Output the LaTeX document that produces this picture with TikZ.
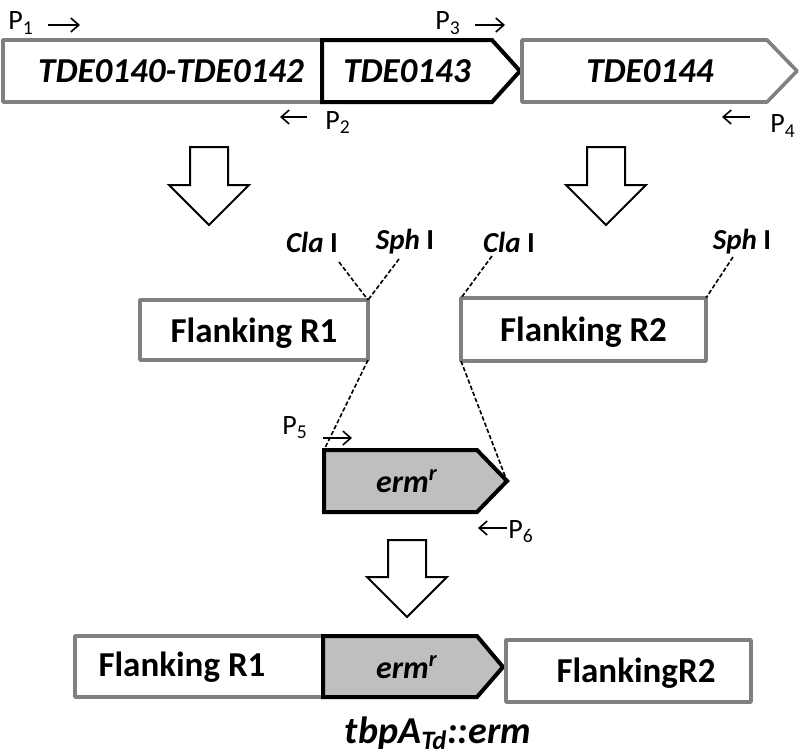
\documentclass[tikz,border=0pt]{standalone}
\usepackage{fontspec}
\setmainfont{Carlito}
\usetikzlibrary{arrows.meta}

\begin{document}
\begin{tikzpicture}[x=0.5pt,y=-0.5pt,
    grey box/.style={draw=black!50, line width=1.8pt, line join=round},
    black box/.style={draw=black, line width=2pt, line join=miter},
    erm box/.style={black box, fill=black!25},
    flank/.style={rectangle, grey box, outer sep=0pt, inner sep=0pt, text depth=0pt, font=\bfseries\fontsize{17.5}{20}\selectfont},
    gene/.style={font=\bfseries\itshape\fontsize{17.5}{20}\selectfont, inner sep=0pt},
    ermtext/.style={font=\bfseries\itshape\fontsize{16}{18}\selectfont, inner sep=0pt},
    primer/.style={font=\fontsize{14}{16}\selectfont, inner sep=0pt},
    primer arrow/.style={line width=0.8pt, -{Straight Barb[length=4pt,width=7pt]}},
    site/.style={font=\bfseries\fontsize{14.5}{17}\selectfont, inner sep=0pt},
    site line/.style={dash pattern=on 2.2pt off 1.1pt, line width=0.8pt},
    block arrow/.style={draw=black, fill=white, line width=1pt, line join=miter}]
  \useasboundingbox (0,0) rectangle (800,755);

  \draw [grey box, fill=white] (3,40) rectangle (322,102);
  \draw [black box, fill=white] (322,40) -- (492,40) -- (520,71) -- (492,102) -- (322,102) -- cycle;
  \draw [grey box, fill=white] (522,40) -- (767,40) -- (797,71) -- (767,102) -- (522,102) -- cycle;
  \node [gene] (g140) at (171,71) {TDE0140-TDE0142};
  \node [gene] (g143) at (407,71) {TDE0143};
  \node [gene] (g144) at (650,71) {TDE0144};

  \node [primer, anchor=base west] (p1) at (8,30) {P\textsubscript{1}};
  \node [primer, anchor=base west] (p2) at (325,129) {P\textsubscript{2}};
  \node [primer, anchor=base west] (p3) at (435,30) {P\textsubscript{3}};
  \node [primer, anchor=base west] (p4) at (770,133) {P\textsubscript{4}};
  \draw [primer arrow] (48,25) -- (80,25);
  \draw [primer arrow] (307,117) -- (280,117);
  \draw [primer arrow] (475,25) -- (505,25);
  \draw [primer arrow] (750,117) -- (722,117);

  \foreach \cx/\ytop/\yhead/\ytip in {209/147/185/225, 606/147/185/225, 407/540/577/617}
    \draw [block arrow] (\cx-19,\ytop) -- (\cx+19,\ytop) -- (\cx+19,\yhead) -- (\cx+40,\yhead)
      -- (\cx,\ytip) -- (\cx-40,\yhead) -- (\cx-19,\yhead) -- cycle;

  \node [site] (claL) at (312,242) {\textit{Cla}\ I};
  \node [site] (sphL) at (405,242) {\textit{Sph}\ I};
  \node [site] (claR) at (509,242) {\textit{Cla}\ I};
  \node [site] (sphR) at (742,242) {\textit{Sph}\ I};
  \coordinate (claLfoot) at (339,262);
  \coordinate (sphLfoot) at (399,259);
  \coordinate (claRfoot) at (492,256);
  \coordinate (sphRfoot) at (733,257);

  \node [flank, minimum width=114pt, minimum height=30pt] (flR1) at (254,330) {Flanking R1};
  \node [flank, minimum width=122.5pt, minimum height=31.5pt] (flR2) at (583.5,329.5) {Flanking R2};

  \draw [site line] (claLfoot) -- (flR1.north east);
  \draw [site line] (sphLfoot) -- (flR1.north east);
  \draw [site line] (claRfoot) -- (flR2.north west);
  \draw [site line] (sphRfoot) -- (flR2.north east);

  \coordinate (ermTL) at (324,450);
  \coordinate (ermTip) at (507,481);
  \draw [site line] (flR1.south east) -- (ermTL);
  \draw [site line] (flR2.south west) -- (ermTip);
  \draw [erm box] (ermTL) -- (477,450) -- (ermTip) -- (477,512) -- (324,512) -- cycle;
  \node [ermtext] (erm) at (407,481) {erm\textsuperscript{r}};

  \node [primer, anchor=base west] (p5) at (282,434) {P\textsubscript{5}};
  \node [primer, anchor=base west] (p6) at (508,538) {P\textsubscript{6}};
  \draw [primer arrow] (323,438) -- (352,438);
  \draw [primer arrow] (507,528) -- (478,528);

  \draw [grey box, fill=white] (75,636) rectangle (323,697);
  \draw [erm box] (323,636) -- (477,636) -- (503,667) -- (477,697) -- (323,697) -- cycle;
  \draw [grey box, fill=white] (506,640) rectangle (751,702);
  \node [flank, draw=none] (flR1b) at (182,664) {Flanking R1};
  \node [ermtext] (ermb) at (407,667) {erm\textsuperscript{r}};
  \node [flank, draw=none] (flR2b) at (636,670) {FlankingR2};

  \node [font=\bfseries\itshape\fontsize{19}{22}\selectfont, inner sep=0pt, anchor=base] (tbpa) at (438,743) {tbpA\textsubscript{Td}::erm};
\end{tikzpicture}
\end{document}
